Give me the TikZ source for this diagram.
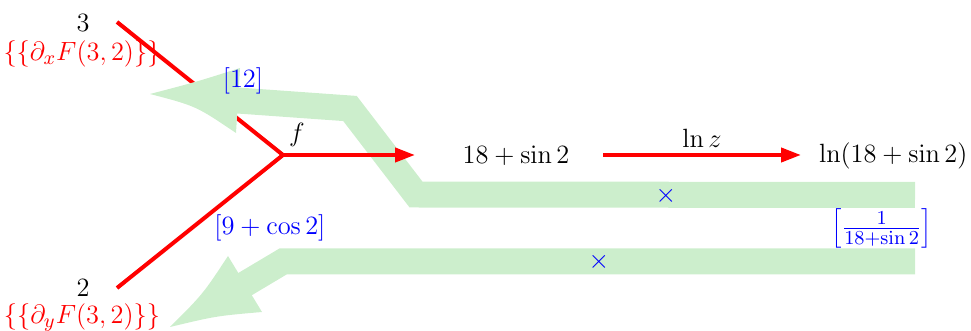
\documentclass[tikz,border=0pt]{standalone}
\usetikzlibrary{arrows.meta}
\definecolor{band}{RGB}{204,238,204}
\begin{document}
\begin{tikzpicture}[x=0.5pt,y=-0.5pt,
  every node/.style={font=\fontsize{12.5}{15}\selectfont, inner sep=0pt, scale=1.1},
  redline/.style={draw=red, line width=2pt},
  redarrow/.style={redline, -{Triangle[length=10pt,width=7pt]}},
  bandline/.style={draw=band, line width=13pt, line join=miter, line cap=butt},
  bandhead/.style={fill=band, draw=none},
  gradlabel/.style={text=blue},
  crossmark/.style={text=blue}]
\useasboundingbox (0,0) rectangle (971,331);
% nodes
\node (n3) at (83,23) {$3$};
\node[text=red] (d3) at (82,54) {$\{\{\partial_x F(3,2)\}\}$};
\node (n2) at (83,288) {$2$};
\node[text=red] (d2) at (82,318) {$\{\{\partial_y F(3,2)\}\}$};
\coordinate (j) at (283,155);
\coordinate (e3) at (117,22);
\coordinate (e2) at (117,288);
\node (s) at (516,155.5) {$18+\sin 2$};
\node[anchor=east] (l) at (968,155.5) {$\ln(18+\sin 2)$};
% red line from 3 (under the band)
\draw[redline] (e3) -- (j);
% band 1
\coordinate (b1s) at (915,195);
\coordinate (b1a) at (416,194.5);
\coordinate (b1b) at (350,108.5);
\coordinate (b1c) at (225,99.6);
\draw[bandline] (b1s) -- (b1a) -- (b1b) -- (b1c);
\coordinate (h1t) at (150,94);
\coordinate (h1u) at (240,68);
\coordinate (h1l) at (236,133);
\fill[bandhead] (h1t) .. controls (196,82) .. (h1u) -- (h1l) .. controls (196,106) .. (h1t) -- cycle;
% band 2
\coordinate (b2s) at (915,261.5);
\coordinate (b2a) at (283,261.5);
\coordinate (b2c) at (236.5,289.2);
\draw[bandline] (b2s) -- (b2a) -- (b2c);
\coordinate (h2t) at (170,327);
\coordinate (h2u) at (228,256);
\coordinate (h2l) at (262,312);
\fill[bandhead] (h2t) .. controls (203,294) .. (h2u) -- (h2l) .. controls (216,316) .. (h2t) -- cycle;
% red lines and arrows
\draw[redline] (e2) -- (j);
\coordinate (a1) at (415,155);
\draw[redarrow] (j) -- (a1);
\coordinate (a2s) at (603,155);
\coordinate (a2e) at (801,155);
\draw[redarrow] (a2s) -- (a2e);
% labels
\node (fl) at (297,135) {$f$};
\node (lz) at (702,138) {$\ln z$};
\node[gradlabel] (g12) at (243,81) {$[12]$};
\node[gradlabel] (g9) at (270,228) {$[9+\cos 2]$};
\node[gradlabel] (gf) at (881.7,228.3) {$\left[\frac{1}{18+\sin 2}\right]$};
\node[crossmark] (x1) at (666,195.5) {$\times$};
\node[crossmark] (x2) at (599,261.5) {$\times$};
\end{tikzpicture}
\end{document}
